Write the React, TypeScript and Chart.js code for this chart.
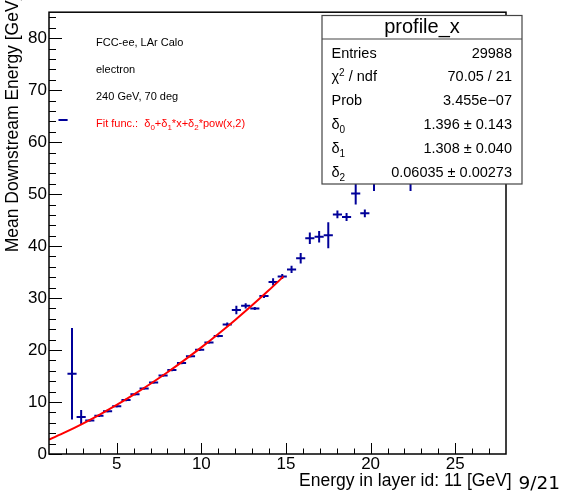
import React, { useEffect, useRef } from "react";
import { Chart, registerables } from "chart.js";

Chart.register(...registerables);

// ---- data ----
const binCenters = [
  1.83, 2.36, 2.9, 3.41, 3.95, 4.46, 5.0, 5.55, 6.08, 6.62, 7.18, 7.74, 8.26,
  8.83, 9.36, 9.9, 10.45, 11.0, 11.53, 12.07, 12.62, 13.16, 13.7, 14.24,
  14.78, 15.33, 15.87, 16.41, 16.96, 17.5, 18.04, 18.58, 19.12, 19.66, 20.2,
  22.36,
];
const meanValues = [
  64.26, 15.46, 7.1, 6.46, 7.36, 8.24, 9.2, 10.4, 11.5, 12.6, 13.75, 15.1,
  16.15, 17.5, 18.8, 20.05, 21.45, 22.7, 24.9, 27.7, 28.5, 28.0, 30.4, 33.1,
  34.15, 35.5, 37.65, 41.5, 41.8, 42.1, 46.1, 45.6, 50.1, 46.3, 54.0, 54.0,
];
const meanErrors = [
  0, 8.8, 1.35, 0.25, 0.25, 0.25, 0.25, 0.25, 0.25, 0.25, 0.25, 0.25, 0.25,
  0.25, 0.25, 0.25, 0.25, 0.25, 0.4, 0.8, 0.5, 0.3, 0.4, 0.7, 0.5, 0.7, 1.0,
  1.1, 1.1, 2.5, 0.75, 0.75, 2.1, 0.75, 3.4, 3.4,
];
const binWidth = 0.54;

const fitX = [1, 2, 3, 4, 5, 6, 7, 8, 9, 10, 11, 12, 13, 14, 14.85];
const fitY = [
  2.76, 4.25, 5.86, 7.59, 9.44, 11.42, 13.51, 15.72, 18.06, 20.51, 23.09,
  25.79, 28.61, 31.54, 34.13,
];

const xMajorTicks = [5, 10, 15, 20, 25];
const yMajorTicks = [0, 10, 20, 30, 40, 50, 60, 70, 80];
const xMinorTicks = [
  2, 3, 4, 6, 7, 8, 9, 11, 12, 13, 14, 16, 17, 18, 19, 21, 22, 23, 24, 26, 27,
];
const yMinorTicks = [
  2, 4, 6, 8, 12, 14, 16, 18, 22, 24, 26, 28, 32, 34, 36, 38, 42, 44, 46, 48,
  52, 54, 56, 58, 62, 64, 66, 68, 72, 74, 76, 78, 82, 84,
];

const xTitle = "Energy in layer id: 11 [GeV]";
const yTitle = "Mean Downstream Energy [GeV]";
const pageLabel = "9/21";
const infoLines = ["FCC-ee, LAr Calo", "electron", "240 GeV, 70 deg"];
const statsTitle = "profile_x";
const statsEntries = "29988";
const statsChi2 = "70.05 / 21";
const statsProb = "3.455e\u221207";
const statsParams = ["1.396 \u00b1 0.143", "1.308 \u00b1 0.040", "0.06035 \u00b1 0.00273"];

const SANS = '"Liberation Sans", Arial, Helvetica, sans-serif';
const BLUE = "#000099";

function drawParts(
  ctx: CanvasRenderingContext2D,
  parts: { t: string; mode?: "sub" | "sup" }[],
  x: number,
  y: number,
  size: number,
  small: number
) {
  let cx = x;
  for (const p of parts) {
    if (p.mode) {
      ctx.font = `${small}px ${SANS}`;
      const dy = p.mode === "sub" ? size * 0.3 : -size * 0.4;
      ctx.fillText(p.t, cx, y + dy);
    } else {
      ctx.font = `${size}px ${SANS}`;
      ctx.fillText(p.t, cx, y);
    }
    cx += ctx.measureText(p.t).width;
  }
  return cx;
}

const rootPlugin = {
  id: "rootStyle",
  beforeDraw(chart: any) {
    const ctx = chart.ctx as CanvasRenderingContext2D;
    ctx.save();
    ctx.fillStyle = "#fff";
    ctx.fillRect(0, 0, chart.width, chart.height);
    ctx.restore();
  },
  beforeDatasetsDraw(chart: any) {
    const ctx = chart.ctx as CanvasRenderingContext2D;
    const xs = chart.scales.x;
    const ys = chart.scales.y;
    const a = chart.chartArea;
    ctx.save();
    ctx.beginPath();
    ctx.rect(a.left, a.top, a.right - a.left, a.bottom - a.top);
    ctx.clip();
    ctx.strokeStyle = BLUE;
    ctx.lineWidth = 2;
    binCenters.forEach((x, i) => {
      const y = meanValues[i];
      const e = meanErrors[i];
      const py = ys.getPixelForValue(y);
      const px = xs.getPixelForValue(x);
      ctx.beginPath();
      ctx.moveTo(xs.getPixelForValue(x - binWidth / 2), py);
      ctx.lineTo(xs.getPixelForValue(x + binWidth / 2), py);
      if (e > 0) {
        ctx.moveTo(px, ys.getPixelForValue(y - e));
        ctx.lineTo(px, ys.getPixelForValue(y + e));
      }
      ctx.stroke();
    });
    ctx.restore();
  },
  afterDraw(chart: any) {
    const ctx = chart.ctx as CanvasRenderingContext2D;
    const xs = chart.scales.x;
    const ys = chart.scales.y;
    const a = chart.chartArea;
    ctx.save();

    // frame
    ctx.strokeStyle = "#000";
    ctx.lineWidth = 1.5;
    ctx.strokeRect(a.left, a.top, a.right - a.left, a.bottom - a.top);

    // inward ticks
    ctx.lineWidth = 1;
    ctx.beginPath();
    yMajorTicks.forEach((v) => {
      const p = Math.round(ys.getPixelForValue(v)) + 0.5;
      ctx.moveTo(a.left, p);
      ctx.lineTo(a.left + 13, p);
    });
    yMinorTicks.forEach((v) => {
      const p = Math.round(ys.getPixelForValue(v)) + 0.5;
      ctx.moveTo(a.left, p);
      ctx.lineTo(a.left + 7, p);
    });
    xMajorTicks.forEach((v) => {
      const p = Math.round(xs.getPixelForValue(v)) + 0.5;
      ctx.moveTo(p, a.bottom);
      ctx.lineTo(p, a.bottom - 11);
    });
    xMinorTicks.forEach((v) => {
      const p = Math.round(xs.getPixelForValue(v)) + 0.5;
      ctx.moveTo(p, a.bottom);
      ctx.lineTo(p, a.bottom - 5.5);
    });
    ctx.stroke();

    // info text
    ctx.fillStyle = "#000";
    ctx.textAlign = "left";
    ctx.textBaseline = "alphabetic";
    ctx.font = `11px ${SANS}`;
    const infoBase = [46.3, 72.7, 100];
    infoLines.forEach((t, i) => ctx.fillText(t, 96, infoBase[i]));
    ctx.fillStyle = "#ff0000";
    drawParts(
      ctx,
      [
        { t: "Fit func.:  " },
        { t: "\u03b4" },
        { t: "0", mode: "sub" },
        { t: "+\u03b4" },
        { t: "1", mode: "sub" },
        { t: "*x+\u03b4" },
        { t: "2", mode: "sub" },
        { t: "*pow(x,2)" },
      ],
      96,
      126.7,
      11,
      8
    );

    // stats box
    const bx = 322, by = 15.5, bw = 200, bh = 168.5;
    ctx.fillStyle = "#fff";
    ctx.fillRect(bx, by, bw, bh);
    ctx.strokeStyle = "#444";
    ctx.lineWidth = 1.2;
    ctx.strokeRect(bx, by, bw, bh);
    ctx.beginPath();
    ctx.moveTo(bx, 39);
    ctx.lineTo(bx + bw, 39);
    ctx.stroke();
    ctx.fillStyle = "#000";
    ctx.font = `20px ${SANS}`;
    ctx.textAlign = "center";
    ctx.fillText(statsTitle, bx + bw / 2, 33);

    const rowBase = (i: number) => 57.5 + 23.8 * i;
    const size = 14.5;
    ctx.textAlign = "left";
    ctx.font = `${size}px ${SANS}`;
    ctx.fillText("Entries", 331.5, rowBase(0));
    drawParts(ctx, [{ t: "\u03c7" }, { t: "2", mode: "sup" }, { t: " / ndf" }], 331.5, rowBase(1), size, 10);
    ctx.font = `${size}px ${SANS}`;
    ctx.fillText("Prob", 331.5, rowBase(2));
    ["0", "1", "2"].forEach((s, k) => {
      drawParts(ctx, [{ t: "\u03b4" }, { t: s, mode: "sub" }], 331.5, rowBase(3 + k), size, 10);
    });
    ctx.font = `${size}px ${SANS}`;
    ctx.textAlign = "right";
    const rx = 512;
    ctx.fillText(statsEntries, rx, rowBase(0));
    ctx.fillText(statsChi2, rx, rowBase(1));
    ctx.fillText(statsProb, rx, rowBase(2));
    statsParams.forEach((t, k) => ctx.fillText(t, rx, rowBase(3 + k)));

    // axis titles
    ctx.textAlign = "left";
    ctx.font = `17.5px ${SANS}`;
    ctx.fillText(xTitle, 299, 486);
    ctx.font = `18.5px "DejaVu Sans", sans-serif`;
    ctx.fillText(pageLabel, 518.5, 488.5);

    ctx.translate(18.3, 252.3);
    ctx.rotate(-Math.PI / 2);
    ctx.font = `17.5px ${SANS}`;
    ctx.fillText(yTitle, 0, 0);
    ctx.restore();
  },
};

export default function App() {
  const ref = useRef<HTMLCanvasElement | null>(null);
  useEffect(() => {
    if (!ref.current) return;
    const tickFont = { family: SANS, size: 17 };
    const chart = new Chart(ref.current, {
      type: "scatter",
      data: {
        datasets: [
          {
            label: "fit",
            data: fitX.map((x, i) => ({ x, y: fitY[i] })),
            showLine: true,
            borderColor: "#ff0000",
            borderWidth: 2,
            pointRadius: 0,
            cubicInterpolationMode: "monotone",
            fill: false,
          } as any,
          {
            label: statsTitle,
            data: binCenters.map((x, i) => ({ x, y: meanValues[i] })),
            pointRadius: 0,
            showLine: false,
            borderColor: BLUE,
            backgroundColor: BLUE,
          },
        ],
      },
      options: {
        animation: false,
        responsive: false,
        devicePixelRatio: 1,
        layout: { padding: { top: 7, right: 57, left: 0, bottom: 0 } },
        plugins: {
          legend: { display: false },
          tooltip: { enabled: false },
          title: { display: false },
        },
        scales: {
          x: {
            type: "linear",
            min: 1,
            max: 28,
            grid: { display: false, drawTicks: false },
            border: { display: false },
            ticks: { font: tickFont, color: "#000", padding: 0, maxRotation: 0, autoSkip: false },
            afterBuildTicks: (s: any) => {
              s.ticks = xMajorTicks.map((v) => ({ value: v }));
            },
            afterFit: (s: any) => {
              s.height = 41;
            },
          },
          y: {
            type: "linear",
            min: 0,
            max: 85,
            grid: { display: false, drawTicks: false },
            border: { display: false },
            ticks: { font: tickFont, color: "#000", padding: 2, autoSkip: false },
            afterBuildTicks: (s: any) => {
              s.ticks = yMajorTicks.map((v) => ({ value: v }));
            },
            afterFit: (s: any) => {
              s.width = 49;
            },
          },
        },
      },
      plugins: [rootPlugin],
    });
    return () => chart.destroy();
  }, []);
  return (
    <div style={{ position: "absolute", left: 0, top: 0, width: 563, height: 495 }}>
      <canvas ref={ref} width={563} height={495} style={{ display: "block" }} />
    </div>
  );
}
